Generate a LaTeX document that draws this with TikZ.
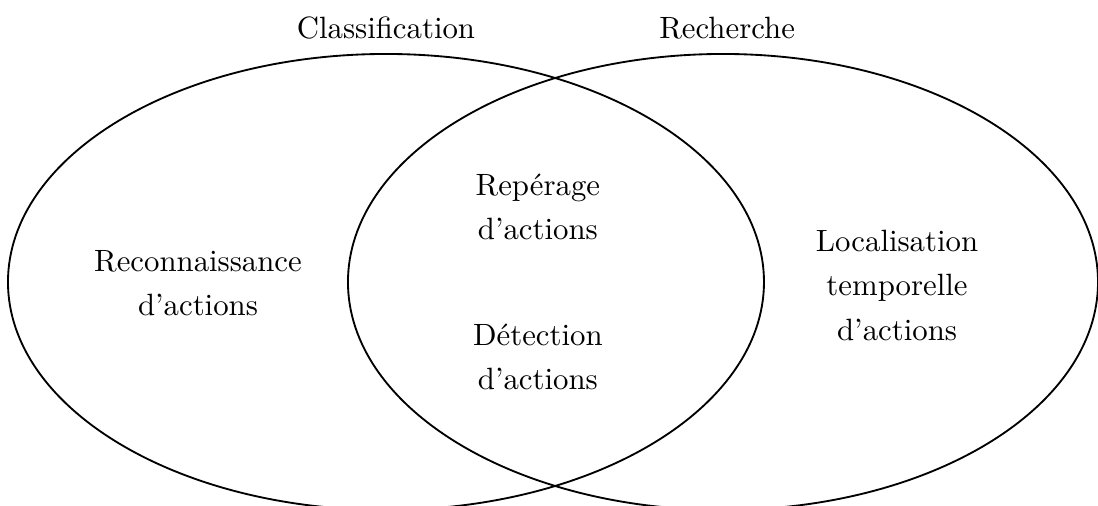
\documentclass[tikz,border=0pt]{standalone}
\usepackage{amsmath}
\usepackage{amssymb}
\usepackage{tikz}
\usetikzlibrary{positioning}

\begin{document}
\begin{tikzpicture}[tache/.style={align=center, font=\linespread{1.2}\selectfont}]

\useasboundingbox (0,0) rectangle (12.534,5.765); % edit here for the margins
\clip (0,0) rectangle (12.534,5.765);

\draw[semithick] (4.406,2.546) ellipse (4.315 and 2.603); % classification
\draw[semithick] (8.253,2.546) ellipse (4.281 and 2.603); % recherche

\node (classif) at (4.406,5.445) {Classification};
\node (recherche) at (8.30,5.445) {Recherche};

\node [tache] (reconn) at (2.26,2.535) {Reconnaissance\\d'actions};
\node [tache] (reperage) at (6.14,3.40) {Repérage\\d'actions};
\node [tache] (detection) at (6.14,1.69) {Détection\\d'actions};
\node [tache] (localis) at (10.24,2.51) {Localisation\\temporelle\\d'actions};

\end{tikzpicture}
\end{document}
